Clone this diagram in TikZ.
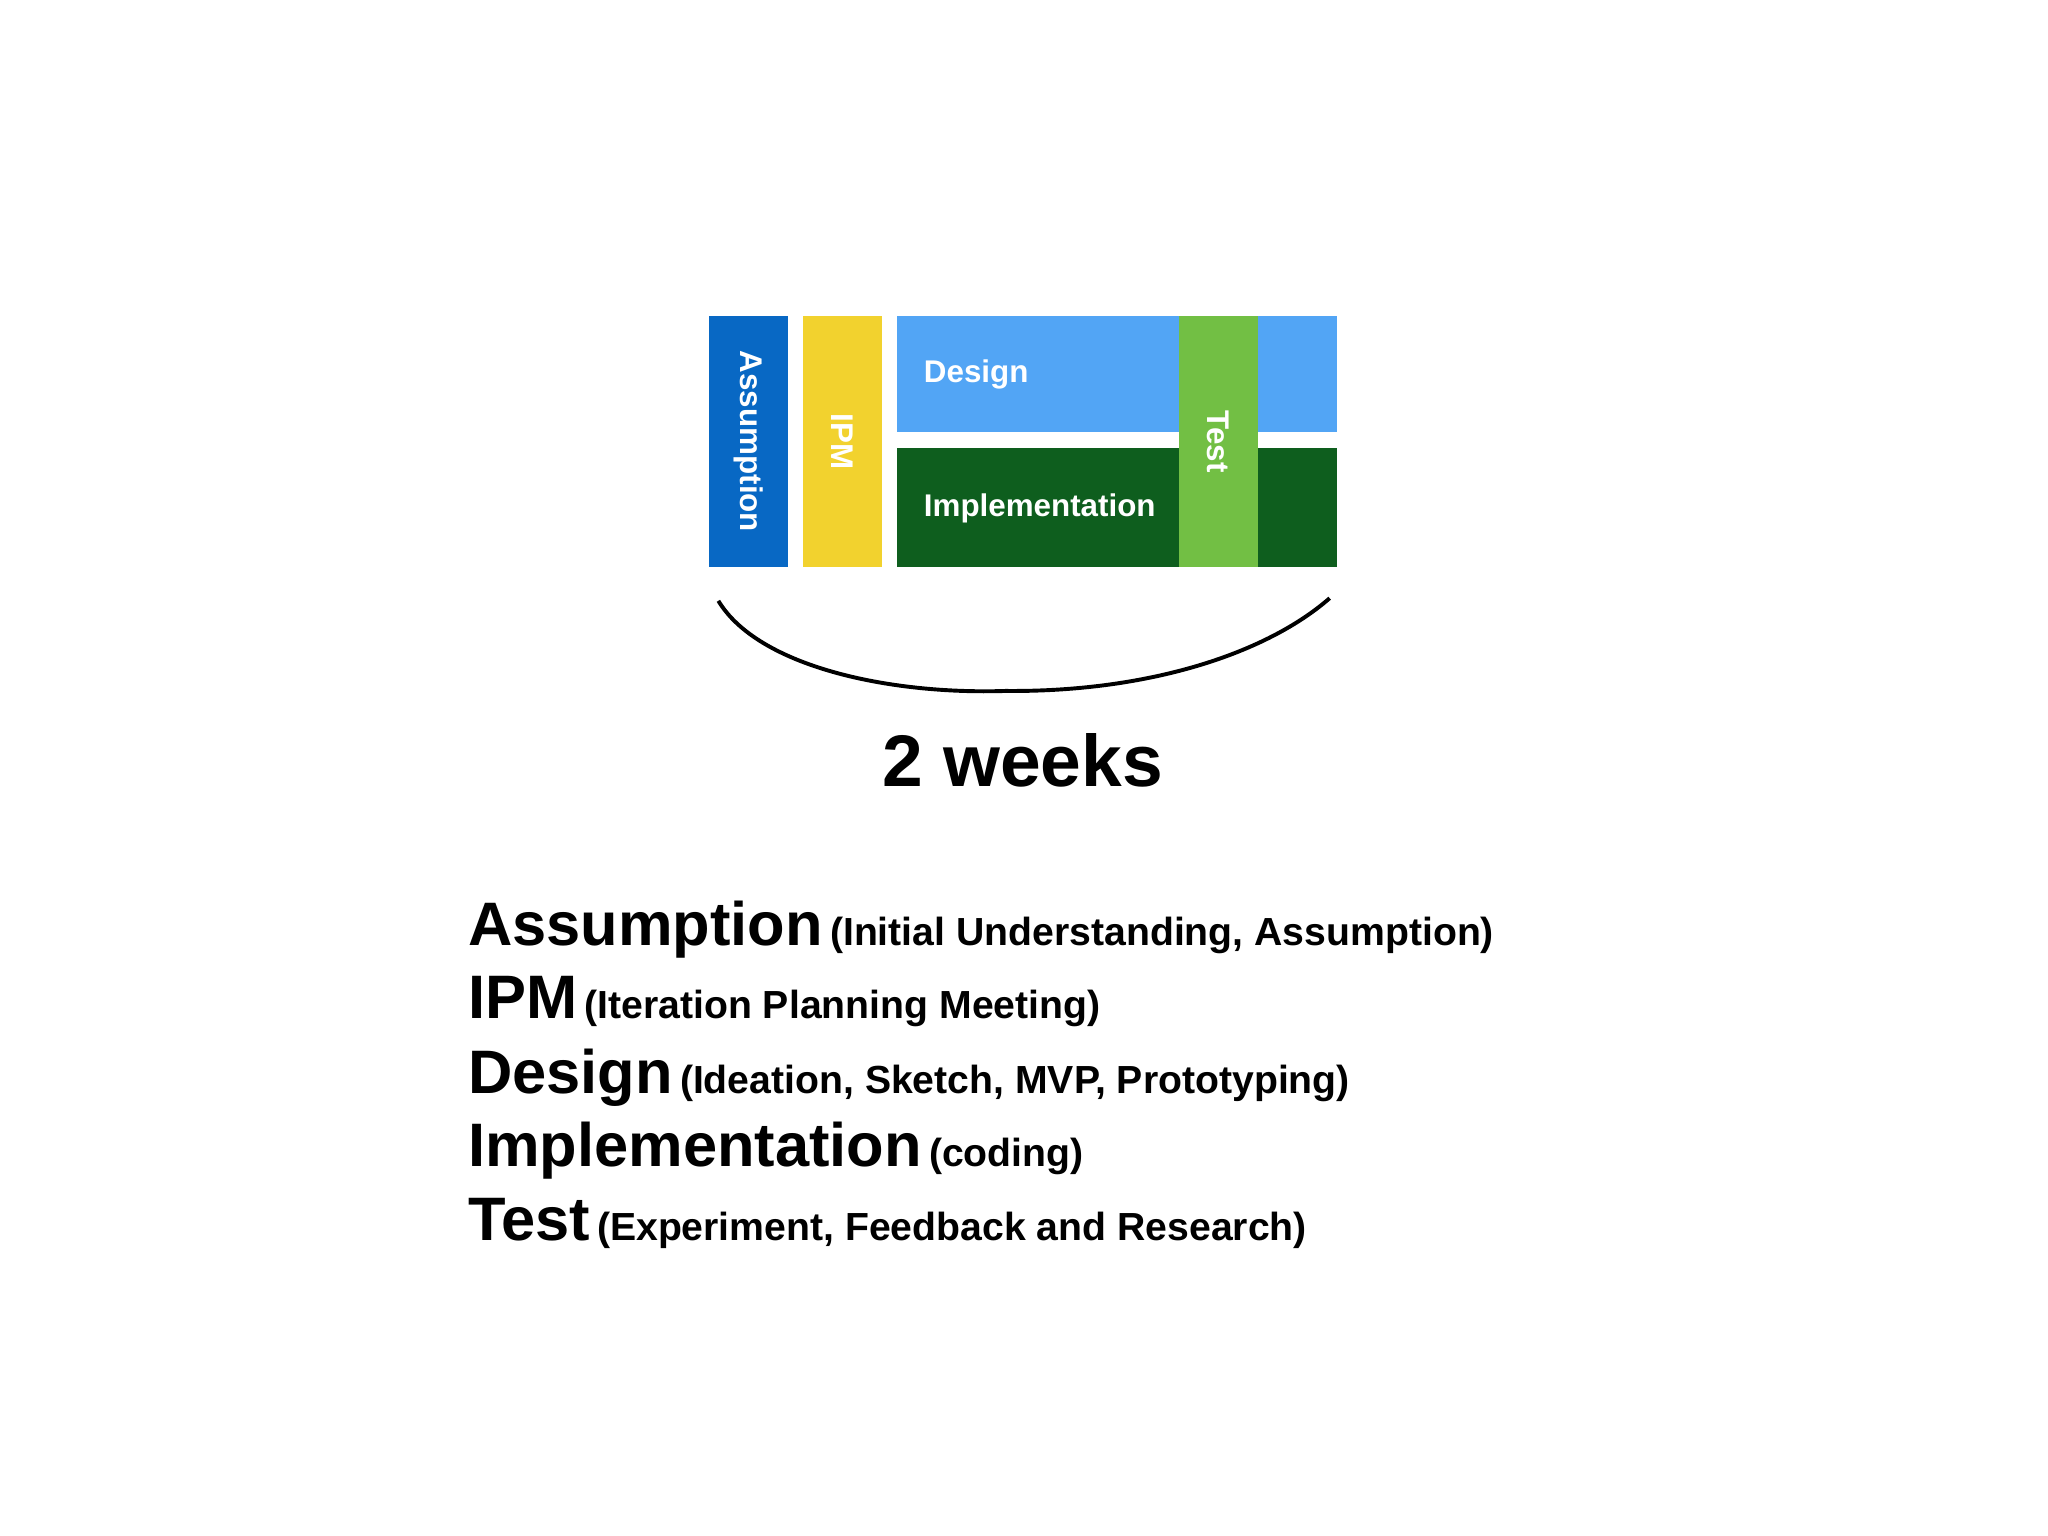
\documentclass[tikz,border=0pt]{standalone}
\usepackage{fontspec}
\setmainfont{Liberation Sans}
\definecolor{cA}{HTML}{0868C4}
\definecolor{cI}{HTML}{F2D22E}
\definecolor{cD}{HTML}{52A5F5}
\definecolor{cM}{HTML}{0E5E1E}
\definecolor{cT}{HTML}{72BF44}
\begin{document}
\begin{tikzpicture}[x=0.5pt,y=-0.5pt,
  bar/.style={draw=none},
  btxt/.style={text=white,font=\bfseries\fontsize{12}{14}\selectfont},
  big/.style={font=\bfseries\fontsize{23.5}{26}\selectfont},
  leg/.style={anchor=base west,inner sep=0pt}]
\useasboundingbox (0,0) rectangle (1568,1176);
\fill[cA] (543,242) rectangle (603,434);
\fill[cI] (615,242) rectangle (675,434);
\fill[cD] (687,242) rectangle (1024,331);
\fill[cM] (687,343) rectangle (1024,434);
\fill[cT] (903,242) rectangle (963,434);
\node[btxt,rotate=-90] (a) at (573,338) {Assumption};
\node[btxt,rotate=-90] (i) at (645,338) {IPM};
\node[btxt,anchor=west,inner sep=0pt] (d) at (707,287) {Design};
\node[btxt,anchor=west,inner sep=0pt] (m) at (707,389) {Implementation};
\node[btxt,rotate=-90] (t) at (933,338) {Test};
\coordinate (c1) at (550,460);
\coordinate (c2) at (1018,458);
\draw[line width=1.5pt] (c1) .. controls (580,510) and (680,532) .. (770,529) .. controls (880,530) and (970,500) .. (c2);
\node[font=\bfseries\fontsize{28}{32}\selectfont] (w) at (783,582) {2 weeks};
\node[leg] (l1) at (358,724) {{\bfseries\fontsize{23.5}{26}\selectfont Assumption} {\bfseries\fontsize{15}{18}\selectfont(Initial Understanding, Assumption)}};
\node[leg] (l2) at (358,780) {{\bfseries\fontsize{23.5}{26}\selectfont IPM} {\bfseries\fontsize{15}{18}\selectfont(Iteration Planning Meeting)}};
\node[leg] (l3) at (358,837) {{\bfseries\fontsize{23.5}{26}\selectfont Design} {\bfseries\fontsize{15}{18}\selectfont(Ideation, Sketch, MVP, Prototyping)}};
\node[leg] (l4) at (358,893) {{\bfseries\fontsize{23.5}{26}\selectfont Implementation} {\bfseries\fontsize{15}{18}\selectfont(coding)}};
\node[leg] (l5) at (358,950) {{\bfseries\fontsize{23.5}{26}\selectfont Test} {\bfseries\fontsize{15}{18}\selectfont(Experiment, Feedback and Research)}};
\end{tikzpicture}
\end{document}
